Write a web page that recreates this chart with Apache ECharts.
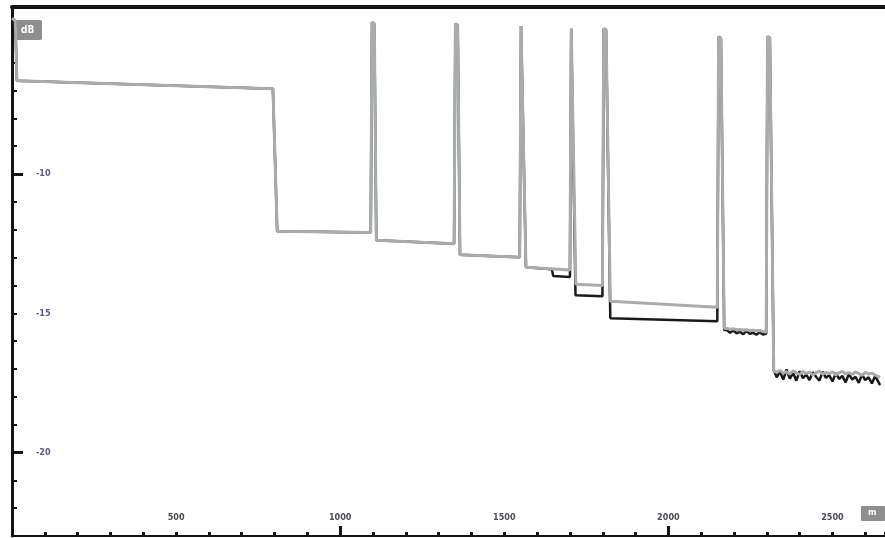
<!DOCTYPE html>
<html>
<head>
<meta charset="utf-8">
<script src="https://cdn.jsdelivr.net/npm/echarts@6/dist/echarts.min.js"></script>
<style>
  html, body { margin: 0; padding: 0; background: #fff; }
  #trace { width: 885px; height: 538px; }
</style>
</head>
<body>
<div id="trace"></div>
<script>
// OTDR-style trace, distance in m, level in dB
const xLabelValues = [500, 1000, 1500, 2000, 2500]
const xMajorTicks = [1000, 2000]
const yLabelValues = [-10, -15, -20]
const yMajorTicks = [-10, -20]

// reference trace (gray), [distance, dB]
const grayHead = [
  [0, -4.4], [10, -4.5], [15, -6.65], [795, -6.94], [808, -12.05], [1093, -12.1],
  [1097, -4.55], [1104, -4.6], [1110, -12.38], [1347, -12.5],
  [1351, -4.6], [1358, -4.65], [1365, -12.9], [1547, -12.99],
  [1551, -4.68], [1557, -4.72], [1566, -13.35], [1700, -13.45],
  [1704, -4.78], [1710, -4.82], [1718, -13.96], [1799, -14.0],
  [1803, -4.78], [1810, -4.82], [1823, -14.57], [2149, -14.78],
  [2153, -5.07], [2160, -5.12], [2170, -15.54]
]
// measured trace (black), [distance, dB]
const blackHead = [
  [0, -4.4], [10, -4.5], [15, -6.65], [795, -6.94], [808, -12.05], [1093, -12.1],
  [1097, -4.55], [1104, -4.6], [1110, -12.38], [1347, -12.5],
  [1351, -4.6], [1358, -4.65], [1365, -12.9], [1547, -12.99],
  [1551, -4.68], [1557, -4.72], [1566, -13.35], [1645, -13.42], [1649, -13.66], [1700, -13.7],
  [1704, -4.78], [1710, -4.82], [1717, -14.35], [1799, -14.39],
  [1803, -4.78], [1810, -4.82], [1823, -15.18], [2149, -15.29],
  [2153, -5.07], [2160, -5.12], [2170, -15.6]
]

// section between the last two events
const midDist  = [2178, 2188, 2198, 2208, 2218, 2228, 2238, 2248, 2258, 2268, 2278, 2288, 2298]
const grayMid  = [-15.55, -15.57, -15.56, -15.59, -15.58, -15.6, -15.59, -15.62, -15.61, -15.63, -15.62, -15.65, -15.68]
const blackMid = [-15.6, -15.7, -15.62, -15.72, -15.66, -15.75, -15.64, -15.74, -15.7, -15.77, -15.68, -15.76, -15.74]
const lastEvent = [[2302, -5.07], [2309, -5.1]]

// noisy tail after the last event
const tailDist = [2321, 2330, 2340, 2350, 2360, 2370, 2380, 2390, 2400, 2410, 2420, 2430, 2440, 2450, 2460, 2470,
  2480, 2490, 2500, 2510, 2520, 2530, 2540, 2550, 2560, 2570, 2580, 2590, 2600, 2610, 2620, 2630, 2645]
const grayTail = [-17.08, -17.12, -17.05, -17.15, -17.1, -17.18, -17.07, -17.14, -17.2, -17.09, -17.16, -17.11,
  -17.22, -17.13, -17.08, -17.19, -17.12, -17.17, -17.1, -17.21, -17.14, -17.09, -17.18, -17.13, -17.2, -17.11,
  -17.16, -17.23, -17.12, -17.18, -17.15, -17.22, -17.3]
const blackTail = [-17.05, -17.3, -17.1, -17.38, -17.02, -17.35, -17.15, -17.42, -17.08, -17.33, -17.2, -17.4,
  -17.12, -17.28, -17.42, -17.1, -17.32, -17.22, -17.45, -17.15, -17.36, -17.25, -17.48, -17.18, -17.38, -17.28,
  -17.5, -17.2, -17.4, -17.3, -17.52, -17.25, -17.58]

const zip = (xs, ys) => xs.map((x, i) => [x, ys[i]])
const grayTrace = [...grayHead, ...zip(midDist, grayMid), ...lastEvent, ...zip(tailDist, grayTail)]
const blackTrace = [...blackHead, ...zip(midDist, blackMid), ...lastEvent, ...zip(tailDist, blackTail)]

const ink = '#141414'
const fontFamily = 'DejaVu Sans Condensed, DejaVu Sans, sans-serif'

const chart = echarts.init(document.getElementById('trace'))
chart.setOption({
  animation: false,
  backgroundColor: '#fff',
  grid: { left: 12, right: 0, top: 7, bottom: 2 },
  xAxis: [
    {
      type: 'value', min: 0, max: 2660, interval: 100, position: 'bottom',
      axisLine: { lineStyle: { color: ink, width: 2 } },
      axisTick: { inside: true, length: 4, lineStyle: { color: ink, width: 3 } },
      axisLabel: {
        inside: true, margin: 14, customValues: xLabelValues,
        formatter: (v) => String(v),
        color: '#4a4a5a', fontSize: 9, fontWeight: 'bold', fontFamily,
      },
      splitLine: { show: false },
    },
    {
      type: 'value', min: 0, max: 2660, position: 'bottom',
      axisLine: { show: false },
      axisTick: { inside: true, length: 10, customValues: xMajorTicks, lineStyle: { color: ink, width: 3 } },
      axisLabel: { show: false },
      splitLine: { show: false },
    },
    {
      type: 'value', min: 0, max: 2660, position: 'top',
      axisLine: { lineStyle: { color: ink, width: 4 } },
      axisTick: { show: false },
      axisLabel: { show: false },
      splitLine: { show: false },
    },
  ],
  yAxis: [
    {
      type: 'value', min: -23, max: -4, interval: 1, position: 'left',
      axisLine: { lineStyle: { color: ink, width: 3 } },
      axisTick: { inside: true, length: 5, lineStyle: { color: ink, width: 2 } },
      axisLabel: {
        inside: true, margin: 24, customValues: yLabelValues,
        formatter: (v) => String(v),
        color: '#5a5a80', fontSize: 9, fontWeight: 'bold', fontFamily,
      },
      splitLine: { show: false },
    },
    {
      type: 'value', min: -23, max: -4, position: 'left',
      axisLine: { show: false },
      axisTick: { inside: true, length: 11, customValues: yMajorTicks, lineStyle: { color: ink, width: 3 } },
      axisLabel: { show: false },
      splitLine: { show: false },
    },
  ],
  graphic: [
    {
      type: 'rect', left: 14, top: 20, shape: { width: 28, height: 20, r: 2 },
      style: { fill: '#8e8e8e' },
    },
    {
      type: 'text', left: 21, top: 25,
      style: { text: 'dB', fill: '#fff', font: 'bold 10px ' + fontFamily },
    },
    {
      type: 'rect', left: 861, top: 506, shape: { width: 24, height: 15, r: 1 },
      style: { fill: '#8e8e8e' },
    },
    {
      type: 'text', left: 868, top: 508,
      style: { text: 'm', fill: '#fff', font: 'bold 9px ' + fontFamily },
    },
  ],
  series: [
    {
      name: 'measured', type: 'line', data: blackTrace, showSymbol: false,
      lineStyle: { color: '#1a1a1a', width: 2.5 }, z: 2,
    },
    {
      name: 'reference', type: 'line', data: grayTrace, showSymbol: false,
      lineStyle: { color: '#a9acad', width: 3 }, z: 3,
    },
  ],
})
</script>
</body>
</html>
